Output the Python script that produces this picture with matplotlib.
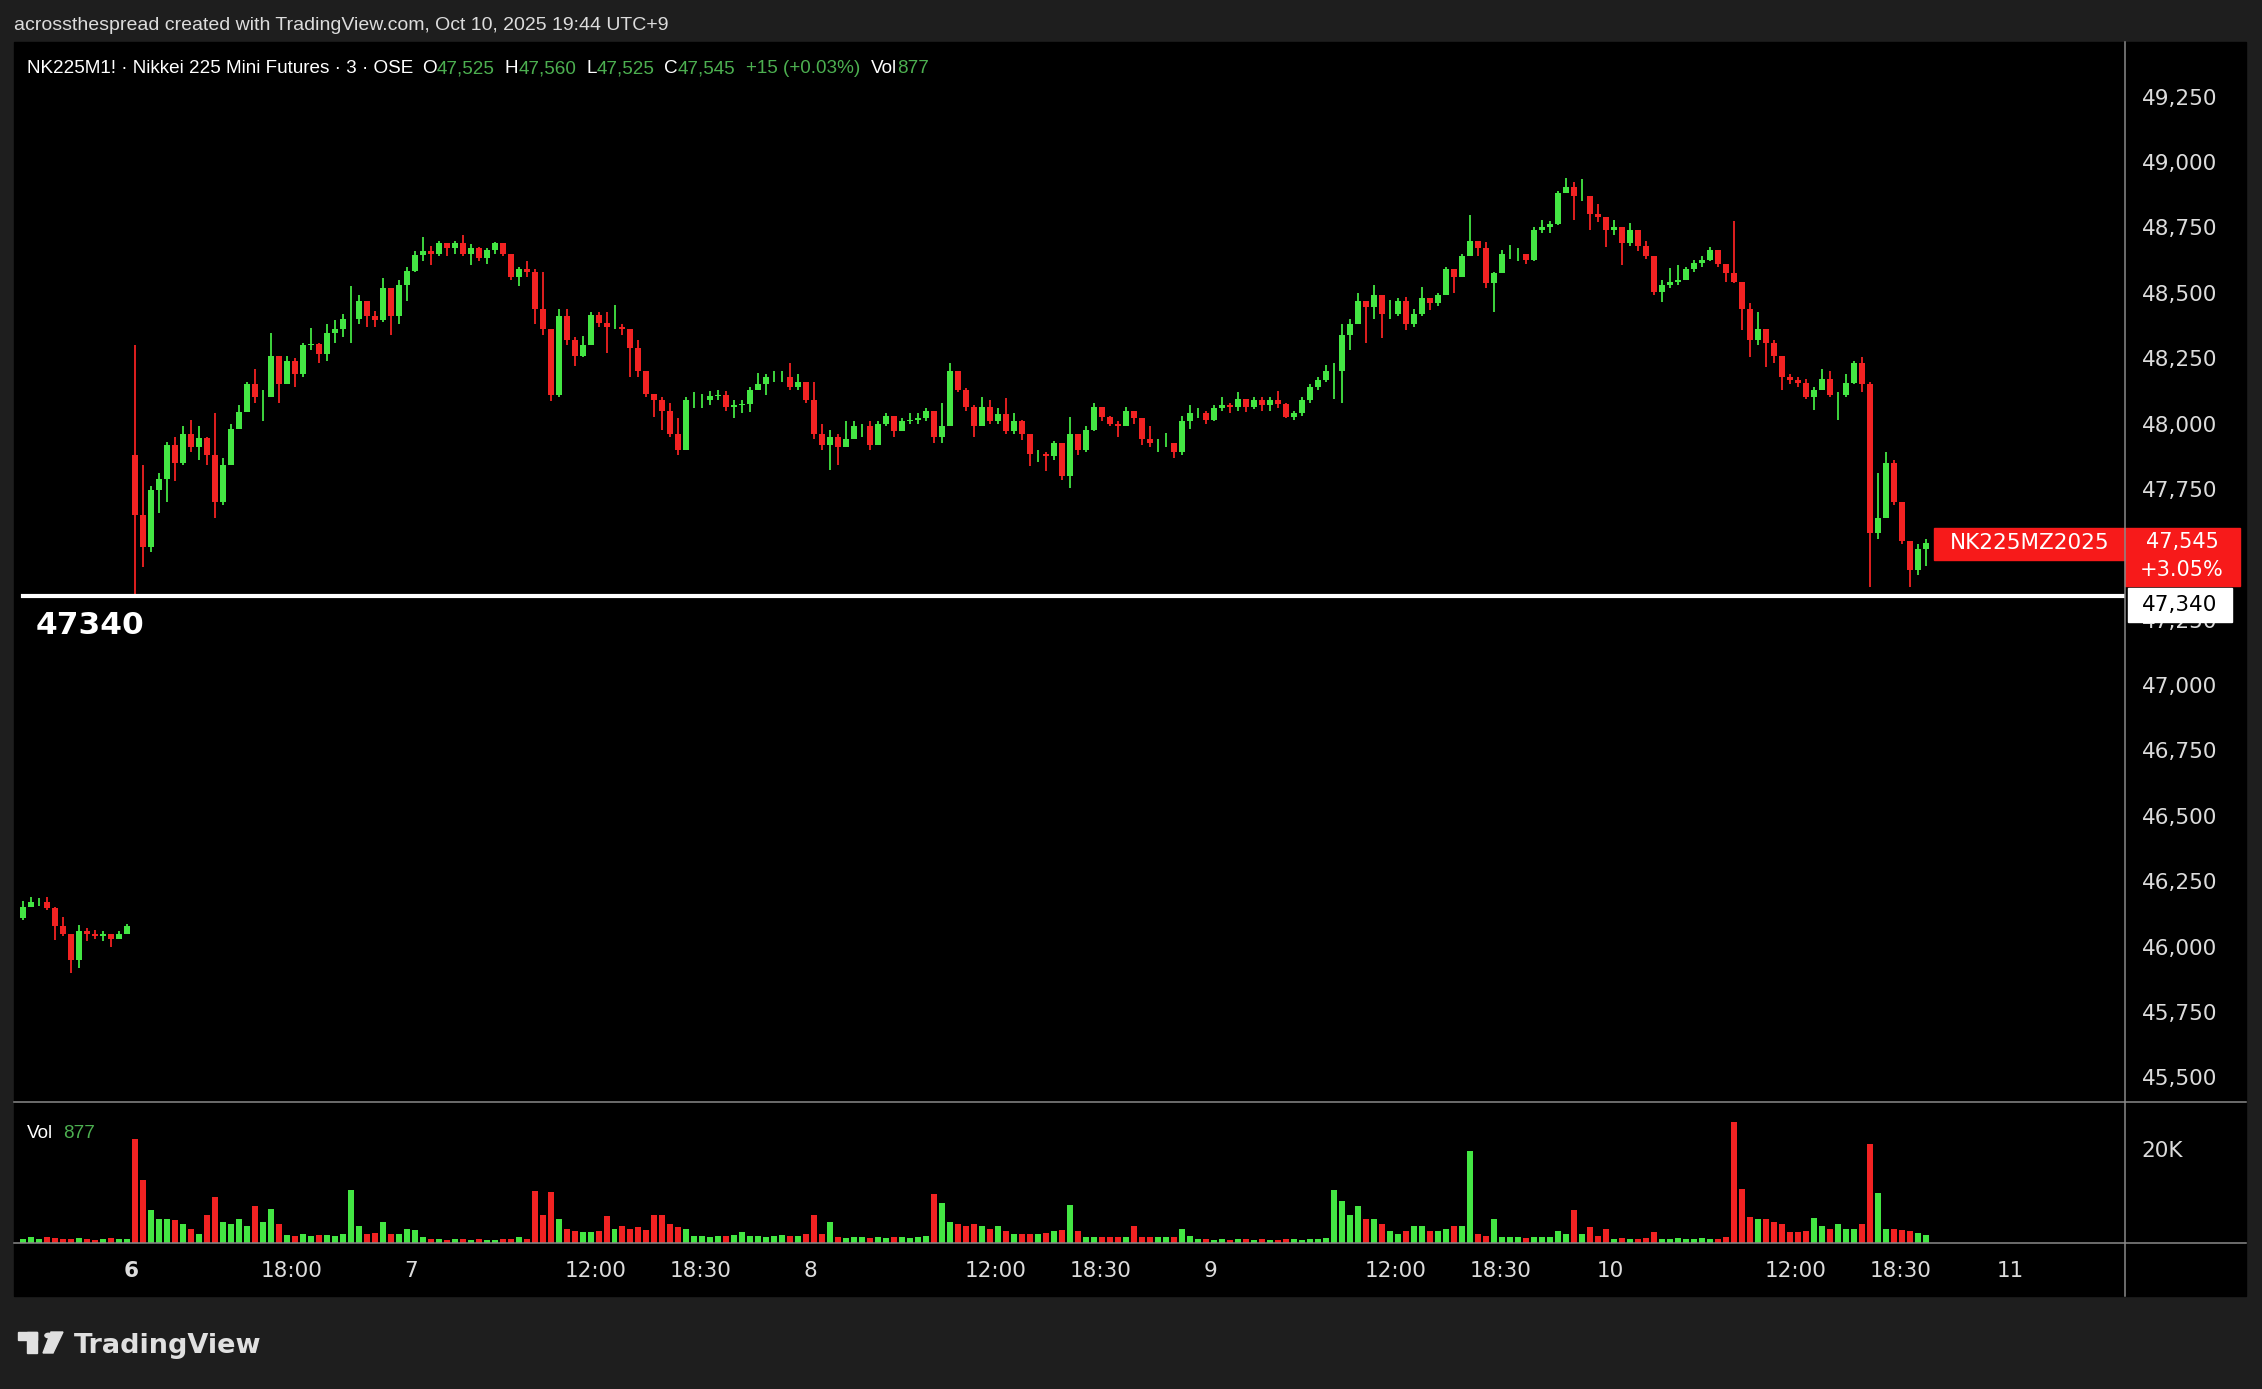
import matplotlib
matplotlib.use("Agg")
import matplotlib.pyplot as plt
import matplotlib.transforms as mtransforms
from matplotlib.patches import Rectangle, Polygon, Circle
import numpy as np

# NK225M1! 3分足  (3分足を8本ずつまとめて描画)
STEP = 8

# 10/3 夜間セッション (6日の寄り付き前)
pre_open = 46110
pre_close = [46150, 46170, 46172, 46146, 46080, 46050, 45950, 46060, 46050, 46040,
             46050, 46030, 46050, 46078]
pre_high = [46175, 46191, 46185, 46188, 46150, 46115, 46050, 46083, 46070, 46064,
            46061, 46040, 46060, 46085]
pre_low = [46100, 46150, 46155, 46140, 46025, 46040, 45898, 45920, 46020, 46030,
           46020, 45997, 46030, 46050]
pre_vol = [900, 1200, 800, 1300, 1000, 900, 800, 1100, 900, 700,
           800, 1000, 800, 900]

# 10/6 8:45 以降
main_open = 47880
main_close = [
    47650, 47530, 47747, 47790, 47920, 47850, 47960, 47910, 47945, 47880,  # 0
    47700, 47840, 47980, 48045, 48150, 48100, 48100, 48260, 48150, 48240,  # 10
    48190, 48300, 48305, 48265, 48345, 48360, 48400, 48400, 48470, 48410,  # 20
    48395, 48520, 48410, 48530, 48585, 48645, 48660, 48650, 48690, 48670,  # 30
    48690, 48650, 48670, 48635, 48665, 48690, 48650, 48560, 48590, 48580,  # 40
    48440, 48360, 48110, 48410, 48320, 48260, 48300, 48415, 48385, 48370,  # 50
    48370, 48360, 48290, 48200, 48115, 48090, 48050, 47960, 47900, 48090,  # 60
    48090, 48090, 48105, 48110, 48065, 48070, 48075, 48130, 48150, 48180,  # 70
    48180, 48180, 48140, 48160, 48090, 47960, 47920, 47950, 47910, 47940,  # 80
    47990, 47990, 47920, 48000, 48030, 47970, 48010, 48015, 48020, 48050,  # 90
    47950, 47990, 48200, 48130, 48065, 47990, 48065, 48010, 48035, 47970,  # 100
    48010, 47960, 47885, 47885, 47875, 47925, 47800, 47960, 47900, 47975,  # 110
    48065, 48025, 48000, 47990, 48050, 48020, 47940, 47925, 47925, 47925,  # 120
    47890, 48010, 48040, 48040, 48015, 48060, 48070, 48065, 48095, 48065,  # 130
    48090, 48070, 48090, 48075, 48027, 48040, 48090, 48140, 48165, 48200,  # 140
    48200, 48340, 48380, 48470, 48445, 48490, 48420, 48420, 48470, 48380,  # 150
    48420, 48480, 48460, 48490, 48590, 48560, 48640, 48700, 48670, 48536,  # 160
    48575, 48650, 48650, 48650, 48625, 48740, 48750, 48765, 48880, 48905,  # 170
    48870, 48870, 48800, 48790, 48740, 48750, 48690, 48740, 48680, 48640,  # 180
    48505, 48530, 48540, 48550, 48590, 48615, 48625, 48664, 48610, 48575,  # 190
    48540, 48440, 48320, 48360, 48310, 48260, 48180, 48167, 48155, 48103,  # 200
    48130, 48170, 48110, 48110, 48155, 48230, 48150, 47581, 47640, 47850,  # 210
    47700, 47550, 47440, 47520, 47545,                                     # 220
]
main_high = [
    48300, 47840, 47760, 47810, 47930, 47950, 47990, 48015, 47990, 47950,
    48040, 47870, 48000, 48070, 48160, 48210, 48130, 48345, 48250, 48260,
    48250, 48310, 48365, 48310, 48380, 48395, 48420, 48525, 48490, 48450,
    48430, 48555, 48520, 48550, 48600, 48660, 48712, 48680, 48700, 48690,
    48700, 48722, 48685, 48675, 48670, 48695, 48690, 48640, 48600, 48620,
    48590, 48580, 48330, 48440, 48440, 48330, 48333, 48428, 48425, 48425,
    48454, 48380, 48350, 48320, 48175, 48115, 48100, 48080, 48020, 48100,
    48120, 48115, 48125, 48130, 48125, 48090, 48090, 48140, 48195, 48190,
    48200, 48200, 48233, 48190, 48150, 48160, 48000, 47975, 47960, 48010,
    48010, 48000, 48010, 48010, 48040, 48030, 48020, 48040, 48040, 48060,
    48050, 48080, 48233, 48200, 48135, 48070, 48100, 48090, 48060, 48097,
    48040, 48014, 47930, 47900, 47890, 47932, 47920, 48027, 47960, 47990,
    48080, 48060, 48030, 48010, 48065, 48050, 48000, 47990, 47940, 47963,
    47920, 48030, 48071, 48060, 48050, 48070, 48103, 48080, 48122, 48090,
    48100, 48100, 48100, 48126, 48080, 48050, 48100, 48150, 48180, 48224,
    48230, 48380, 48400, 48498, 48470, 48530, 48480, 48473, 48480, 48485,
    48440, 48524, 48480, 48500, 48600, 48590, 48650, 48798, 48700, 48696,
    48580, 48665, 48683, 48670, 48650, 48750, 48778, 48775, 48890, 48938,
    48925, 48934, 48850, 48840, 48760, 48780, 48720, 48768, 48740, 48700,
    48640, 48550, 48594, 48606, 48600, 48625, 48640, 48677, 48660, 48600,
    48775, 48540, 48460, 48428, 48340, 48320, 48240, 48190, 48180, 48170,
    48140, 48210, 48200, 48120, 48190, 48240, 48256, 48160, 47810, 47893,
    47860, 47700, 47550, 47540, 47560,
]
main_low = [
    47333, 47450, 47510, 47660, 47700, 47780, 47840, 47890, 47860, 47840,
    47640, 47690, 47870, 47980, 48050, 48080, 48010, 48100, 48080, 48150,
    48140, 48180, 48280, 48230, 48240, 48310, 48330, 48310, 48380, 48370,
    48370, 48390, 48340, 48380, 48470, 48580, 48620, 48605, 48640, 48640,
    48650, 48640, 48605, 48620, 48612, 48650, 48640, 48550, 48525, 48560,
    48380, 48340, 48085, 48100, 48300, 48220, 48256, 48300, 48370, 48270,
    48360, 48340, 48180, 48180, 48100, 48027, 47975, 47950, 47880, 47900,
    48060, 48060, 48070, 48090, 48050, 48020, 48040, 48045, 48130, 48110,
    48160, 48160, 48130, 48130, 48080, 47940, 47900, 47823, 47840, 47925,
    47950, 47950, 47900, 47920, 47990, 47950, 47970, 48000, 48000, 48010,
    47925, 47925, 48000, 48120, 48050, 47950, 47990, 48000, 48000, 47960,
    47960, 47938, 47836, 47855, 47817, 47860, 47785, 47753, 47880, 47890,
    47970, 48010, 47990, 47950, 47990, 48000, 47918, 47910, 47893, 47910,
    47868, 47880, 47980, 48020, 48000, 48010, 48050, 48040, 48050, 48046,
    48055, 48050, 48050, 48060, 48020, 48014, 48030, 48080, 48130, 48160,
    48093, 48078, 48280, 48380, 48307, 48400, 48326, 48400, 48410, 48358,
    48370, 48410, 48435, 48450, 48500, 48500, 48560, 48650, 48640, 48520,
    48428, 48590, 48630, 48620, 48612, 48620, 48730, 48730, 48760, 48880,
    48778, 48850, 48740, 48770, 48677, 48720, 48606, 48680, 48660, 48630,
    48490, 48466, 48520, 48530, 48550, 48580, 48600, 48620, 48600, 48540,
    48536, 48358, 48256, 48300, 48218, 48230, 48129, 48150, 48140, 48095,
    48052, 48140, 48100, 48014, 48100, 48150, 48120, 47377, 47560, 47640,
    47690, 47540, 47377, 47420, 47454,
]
main_vol = [
    22100, 13300, 7000, 5000, 5000, 4800, 4000, 3000, 2000, 5900,
    9760, 4500, 4000, 5000, 3500, 7800, 4500, 7200, 4000, 1800,
    1500, 2000, 1500, 1600, 1800, 1500, 2000, 11170, 3500, 2000,
    2200, 4500, 2000, 2000, 3000, 2800, 1200, 900, 800, 700,
    800, 900, 700, 800, 600, 700, 800, 900, 1200, 800,
    11000, 6000, 10800, 5000, 3000, 2500, 2300, 2300, 2500, 5650,
    3000, 3500, 3000, 3400, 2800, 5900, 6000, 4000, 3400, 3000,
    1500, 1400, 1300, 1500, 1400, 1600, 2300, 1400, 1500, 1300,
    1500, 1600, 1400, 1500, 2000, 5870, 2000, 4500, 1200, 1100,
    1300, 1200, 1000, 1200, 1100, 1300, 1200, 1100, 1300, 1500,
    10460, 8500, 4500, 4000, 3500, 4000, 3500, 3000, 3500, 2500,
    2000, 2000, 2000, 2000, 2200, 2500, 2800, 8000, 2500, 1300,
    1300, 1200, 1200, 1300, 1200, 3700, 1300, 1300, 1200, 1300,
    1200, 3000, 1500, 800, 900, 700, 800, 700, 800, 900,
    700, 800, 600, 700, 800, 900, 700, 800, 900, 1000,
    11170, 9000, 6000, 7800, 5000, 5000, 4000, 2500, 2000, 2500,
    3500, 3500, 2500, 2500, 3000, 3500, 3500, 19500, 2000, 1500,
    5000, 1200, 1200, 1300, 1100, 1200, 1200, 1300, 2500, 2000,
    7070, 2000, 3400, 1500, 3000, 900, 1000, 800, 900, 1000,
    2300, 900, 800, 1000, 900, 800, 1000, 900, 800, 1200,
    25660, 11500, 5500, 5000, 5000, 4500, 4000, 2300, 2300, 2500,
    5300, 3700, 3000, 4000, 3000, 3000, 4000, 20900, 10600, 3000,
    3000, 2700, 2500, 2200, 1800,
]

hline_price = 47340
price_ticks = np.arange(45500, 49251, 250)
hidden_ticks = [47500]  # 赤いラベルの下に隠れる
time_ticks = [(6, 8, 45, "6"), (6, 18, 0, "18:00"), (7, 0, 0, "7"), (7, 12, 0, "12:00"),
              (7, 18, 30, "18:30"), (8, 0, 0, "8"), (8, 12, 0, "12:00"), (8, 18, 30, "18:30"),
              (9, 0, 0, "9"), (9, 12, 0, "12:00"), (9, 18, 30, "18:30"), (10, 0, 0, "10"),
              (10, 12, 0, "12:00"), (10, 18, 30, "18:30"), (11, 0, 0, "11")]

GREEN = "#43e643"
RED = "#f22222"
TXT = "#dcdcdc"
VAL_GREEN = "#4caf50"
FRAME = "#1e1e1e"


def bar_index(day, hh, mm):
    # OSE: 日中 8:45-15:45 / 夜間 17:00-翌6:00, 1日 = 400本
    midnight = 280 + (day - 7) * 400
    t = hh * 60 + mm
    if t <= 360:
        return midnight + t / 3
    if t < 1020:
        return midnight + 120 + (t - 525) / 3
    return midnight + 260 + (t - 1020) / 3


W, H = 2262, 1389
fig = plt.figure(figsize=(W / 100, H / 100), dpi=100, facecolor=FRAME)


def fx(px):
    return px / W


def fy(py):
    return 1 - py / H


# チャート領域(黒)
fig.add_artist(Rectangle((fx(14), fy(1296)), fx(2246) - fx(14), fy(42) - fy(1296),
                         transform=fig.transFigure, color="black", zorder=0))

AX_L, AX_R, AX_T, AX_B, VOL_B = 14.4, 2125, 42, 1102, 1243
ax = fig.add_axes([fx(AX_L), fy(AX_B), fx(AX_R) - fx(AX_L), fy(AX_T) - fy(AX_B)])
axv = fig.add_axes([fx(AX_L), fy(VOL_B), fx(AX_R) - fx(AX_L), fy(AX_B) - fy(VOL_B)], sharex=ax)
for a in (ax, axv):
    a.set_facecolor("black")
    for s in a.spines.values():
        s.set_visible(False)

ymin, ymax = 45406, 49459
ax.set_ylim(ymin, ymax)
ax.set_xlim(-117, 1995)
axv.set_ylim(0, 29870)
ppx = (ymax - ymin) / (AX_B - AX_T)  # 1px あたりの価格


def draw_candles(start, o0, c, h, l, v):
    c = np.array(c, float)
    o = np.concatenate([[o0], c[:-1]])
    hi = np.maximum(np.array(h, float), np.maximum(o, c))
    lo = np.minimum(np.array(l, float), np.minimum(o, c))
    x = start + STEP * np.arange(len(c)) + STEP / 2 - 0.5
    col = np.where(c >= o, GREEN, RED)
    ax.vlines(x, lo, hi, colors=col, lw=1.3, zorder=2)
    ax.bar(x, c - o, bottom=o, width=6, color=col, linewidth=0, zorder=2)
    axv.bar(x, v, width=6, color=col, linewidth=0, zorder=2)


draw_candles(-112, pre_open, pre_close, pre_high, pre_low, pre_vol)
draw_candles(0, main_open, main_close, main_high, main_low, main_vol)

# 水平線 47340
ax.axhline(hline_price, xmin=(23 - AX_L) / (AX_R - AX_L), xmax=1, color="white", lw=3, zorder=3)
ax.annotate(f"{hline_price}", xy=((36 - AX_L) / (AX_R - AX_L), hline_price),
            xycoords=("axes fraction", "data"), xytext=(0, -21), textcoords="offset points",
            ha="left", va="center", color="white", fontsize=22.5, fontweight="bold")

# 価格軸
ax.yaxis.tick_right()
ax.set_yticks(price_ticks)
ax.set_yticklabels(["" if p in hidden_ticks else f"{p:,}" for p in price_ticks])
ax.tick_params(axis="y", length=0, pad=12, labelsize=15.5, labelcolor=TXT)
ax.tick_params(axis="x", length=0, labelbottom=False)

axv.yaxis.tick_right()
axv.set_yticks([20000])
axv.set_yticklabels(["20K"])
axv.tick_params(axis="y", length=0, pad=12, labelsize=15.5, labelcolor=TXT)
axv.set_xticks([bar_index(d, hh, mm) for d, hh, mm, _ in time_ticks])
axv.set_xticklabels([lab for *_, lab in time_ticks])
axv.tick_params(axis="x", length=0, pad=13, labelsize=15.5, labelcolor=TXT)
axv.get_xticklabels()[0].set_fontweight("bold")

# 右端ラベル
last = main_close[-1]
pct = "+3.05%"
bt = mtransforms.blended_transform_factory(fig.transFigure, ax.transData)
ax.add_patch(Rectangle((fx(1934), last - 17 * ppx), fx(2125) - fx(1934), 32 * ppx,
                       transform=bt, color="#f71a1a", clip_on=False, zorder=5))
ax.add_patch(Rectangle((fx(2125), last - 43 * ppx), fx(2240) - fx(2125), 58 * ppx,
                       transform=bt, color="#f71a1a", clip_on=False, zorder=5))
ax.text(fx(2030), last, "NK225MZ2025", transform=bt, ha="center", va="center",
        color="white", fontsize=15.5, zorder=6, clip_on=False)
ax.text(fx(2182), last + 1 * ppx, f"{last:,}", transform=bt, ha="center", va="center",
        color="white", fontsize=15, zorder=6, clip_on=False)
ax.text(fx(2182), last - 27 * ppx, pct, transform=bt, ha="center", va="center",
        color="white", fontsize=15, zorder=6, clip_on=False)
ax.add_patch(Rectangle((fx(2128), hline_price - 26 * ppx), fx(2232) - fx(2128), 34 * ppx,
                       transform=bt, color="white", clip_on=False, zorder=5))
ax.text(fx(2180), hline_price - 9 * ppx, f"{hline_price:,}", transform=bt, ha="center",
        va="center", color="black", fontsize=15.5, zorder=6, clip_on=False)

# 区切り線
sep = "#8a8a8a"
fig.add_artist(plt.Line2D([fx(AX_R), fx(AX_R)], [fy(42), fy(1296)], transform=fig.transFigure,
                          color=sep, lw=1.1))
for py in (AX_B, VOL_B):
    fig.add_artist(plt.Line2D([fx(14), fx(2246)], [fy(py), fy(py)], transform=fig.transFigure,
                              color=sep, lw=1.1))

# ヘッダー
fig.text(fx(14), fy(26), "acrossthespread created with TradingView.com, Oct 10, 2025 19:44 UTC+9",
         color=TXT, fontsize=14, family="Liberation Sans", va="center", ha="left")

renderer = fig.canvas.get_renderer()
header = [("NK225M1! · Nikkei 225 Mini Futures · 3 · OSE", "white", 9),
          ("O", "white", 0), ("47,525", VAL_GREEN, 10),
          ("H", "white", 0), ("47,560", VAL_GREEN, 10),
          ("L", "white", 0), ("47,525", VAL_GREEN, 10),
          ("C", "white", 0), ("47,545", VAL_GREEN, 10),
          ("+15 (+0.03%)", VAL_GREEN, 11),
          ("Vol", "white", 0), ("877", VAL_GREEN, 0)]
xpos = 27
for s, col, gap in header:
    t = fig.text(fx(xpos), fy(73), s, color=col, fontsize=13.6, family="Liberation Sans",
                 va="baseline", ha="left")
    xpos = t.get_window_extent(renderer).x1 + gap

t = fig.text(fx(27), fy(1138), "Vol", color="white", fontsize=13.6, family="Liberation Sans",
             va="baseline", ha="left")
fig.text(fx(t.get_window_extent(renderer).x1 + 10), fy(1138), "877", color=VAL_GREEN,
         fontsize=13.6, family="Liberation Sans", va="baseline", ha="left")

# TradingView ロゴ
logo = "#e0e0e0"
fig.add_artist(Rectangle((fx(18), fy(1340)), fx(37) - fx(18), fy(1332) - fy(1340),
                         transform=fig.transFigure, color=logo))
fig.add_artist(Rectangle((fx(27), fy(1353)), fx(37) - fx(27), fy(1332) - fy(1353),
                         transform=fig.transFigure, color=logo))
fig.add_artist(Circle((fx(48.5), fy(1335.5)), fx(3.6), transform=fig.transFigure, color=logo))
fig.add_artist(Polygon([(fx(51), fy(1332)), (fx(63), fy(1332)), (fx(53), fy(1353)),
                        (fx(43), fy(1353))], closed=True, transform=fig.transFigure, color=logo))
fig.text(fx(74), fy(1353), "TradingView", color=logo, fontsize=19.5, fontweight="bold",
         va="baseline", ha="left")

fig.savefig("out.png", dpi=100, facecolor=FRAME)
